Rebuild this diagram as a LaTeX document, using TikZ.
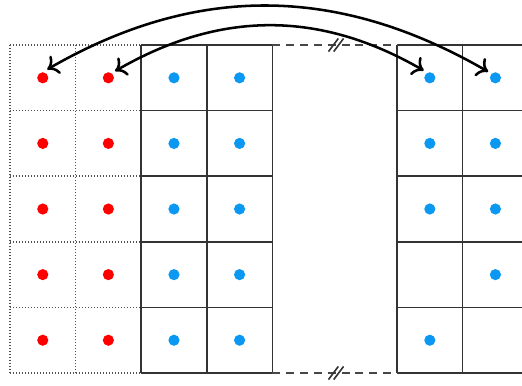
\documentclass[tikz,border=0pt]{standalone}
\usepackage{xcolor}
\usepackage{tikz}
\usetikzlibrary{arrows.meta}
\definecolor{DotRed}{HTML}{FF0000}
\definecolor{DotBlue}{HTML}{0A98F2}
\definecolor{GridGray}{HTML}{333333}
\tikzset{
  % Base dot
  DT/.style={circle,inner sep=0pt,minimum size=0.17cm,outer sep=0.06cm},
  % Colour variants
  rD/.style={DT,fill=DotRed},
  bD/.style={DT,fill=DotBlue},
  % Grid lines
  cS/.style={line width=0.7pt,draw=GridGray},
  cD/.style={line width=0.75pt,draw=GridGray!85,dash pattern=on 0.6pt off 0.7pt},
  gapL/.style={line width=0.7pt,draw=GridGray!90,dash pattern=on 3.5pt off 2.5pt},
  brk/.style={line width=0.7pt,draw=GridGray},
  % Arrow
  arr/.style={{To[length=4.5pt,width=9pt]}-{To[length=4.5pt,width=9pt]},line width=1.1pt}
}
\begin{document}
\begin{tikzpicture}
  \useasboundingbox (-0.152,-0.183) rectangle (7.805,5.686);
  \clip (-0.152,-0.183) rectangle (7.805,5.686);
  % cells
  \draw[cD] (0,0) grid (2,5);
  \draw[cS] (2,0) grid (4,5);
  \draw[cS,xshift=5.9cm] (0,0) grid (2,5);
  % gap with break marks
  \draw[gapL] (4,5) -- (5.9,5);
  \draw[gapL] (4,0) -- (5.9,0);
  \foreach \yy in {0,5}{
    \draw[brk] (4.855,\yy-0.1) -- (5.005,\yy+0.1);
    \draw[brk] (4.935,\yy-0.1) -- (5.085,\yy+0.1);
  }
  % dots
  \foreach \r in {1,...,5}{
    \node[rD] (d1\r) at (0.5,5.5-\r) {};
    \node[rD] (d2\r) at (1.5,5.5-\r) {};
    \node[bD] (d3\r) at (2.5,5.5-\r) {};
    \node[bD] (d4\r) at (3.5,5.5-\r) {};
  }
  \foreach \r in {1,2,3,5} \node[bD] (d5\r) at (6.4,5.5-\r) {};
  \foreach \r in {1,...,4} \node[bD] (d6\r) at (7.4,5.5-\r) {};
  % swaps
  \draw[arr] (d61.140) to[out=150,in=30] (d11.62);
  \draw[arr] (d51.130) to[out=150,in=30] (d21.45);
\end{tikzpicture}
\end{document}
